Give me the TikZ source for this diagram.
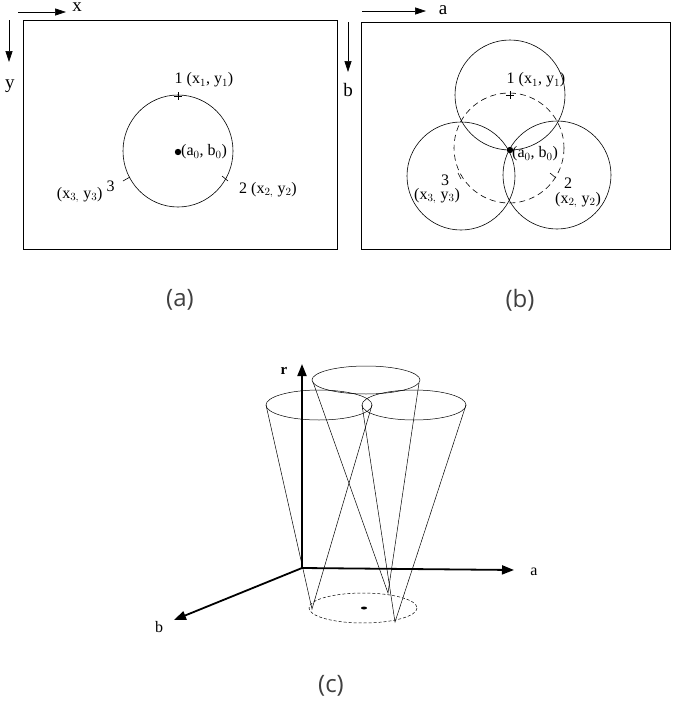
\documentclass[tikz,border=0pt]{standalone}
\usepackage{fontspec}
\setmainfont{Liberation Serif}
\setsansfont{Open Sans}
\usetikzlibrary{arrows.meta}
\begin{document}
\begin{tikzpicture}[x=1pt,y=-1pt,
  lab/.style={inner sep=1pt,font=\fontsize{16}{18}\selectfont},
  big/.style={inner sep=1pt,font=\fontsize{19}{22}\selectfont},
  captn/.style={font=\sffamily\fontsize{24}{28}\selectfont\color{black!75}},
  ax/.style={-{Triangle[length=11pt,width=7pt]},line width=0.6pt},
  bax/.style={-{Triangle[length=12pt,width=9pt]},line width=1.8pt},
  thin/.style={line width=0.6pt},
  cone/.style={line width=0.5pt}]
\useasboundingbox (0,0) rectangle (673,707);
% panel a
\draw[thin] (23,20) rectangle (337,249);
\coordinate (xa0) at (18,12); \coordinate (xa1) at (66,12);
\draw[ax] (xa0) -- (xa1);
\node[big] (lx) at (77,7) {x};
\coordinate (ya0) at (9,20); \coordinate (ya1) at (9,62);
\draw[ax] (ya0) -- (ya1);
\node[big] (ly) at (10,86) {y};
\draw[thin] (178,151) ellipse (55 and 56);
\fill (178,152) circle (3.2);
\node[lab,anchor=west] (a0) at (180,152) {(a$_0$, b$_0$)};
\draw[thin] (174,96)--(182,96) (178,92)--(178,100);
\draw[thin] (123,181)--(130,177);
\draw[thin] (222,176)--(228,181);
\node[lab] (p1) at (204,80) {1 (x$_1$, y$_1$)};
\node[lab] (p3) at (86,192) {(x$_{3,}$ y$_3$) $^{\textrm{3}}$};
\node[lab] (p2) at (268,190) {2 (x$_{2,}$ y$_2$)};
% panel b
\draw[thin] (361,22) rectangle (670,249);
\coordinate (xb0) at (362,11); \coordinate (xb1) at (426,11);
\draw[ax] (xb0) -- (xb1);
\node[big] (la) at (443,10) {a};
\coordinate (yb0) at (348,22); \coordinate (yb1) at (348,72);
\draw[ax] (yb0) -- (yb1);
\node[big] (lb) at (348,90) {b};
\draw[thin,dash pattern=on 6pt off 4pt] (509,148) ellipse (55 and 55);
\draw[thin] (510,95) circle (55);
\draw[thin] (461,176) circle (54);
\draw[thin] (557,175) circle (54);
\fill (510,150) circle (3.2);
\node[lab,anchor=west] (b0) at (511,154) {(a$_0$, b$_0$)};
\draw[thin] (506,95)--(514,95) (510,91)--(510,99);
\draw[thin] (458,173)--(461,179);
\draw[thin] (550,173)--(556,178);
\node[lab] (q1) at (536,80) {1 (x$_1$, y$_1$)};
\node[lab] (q3n) at (445,180) {3};
\node[lab] (q3) at (437,196) {(x$_{3,}$ y$_3$)};
\node[lab] (q2n) at (568,183) {2};
\node[lab] (q2) at (578,200) {(x$_{2,}$ y$_2$)};
% captions
\node[captn] (ca) at (180,300) {(a)};
\node[captn] (cb) at (520,300) {(b)};
\node[captn] (cc) at (331,686) {(c)};
% panel c
\coordinate (O) at (302,568);
\coordinate (R) at (302,364);
\coordinate (A) at (514,570);
\coordinate (B) at (174,620);
\draw[bax] (O) -- (R);
\draw[bax] (O) -- (A);
\draw[bax] (O) -- (B);
\node[lab,font=\bfseries\fontsize{15}{17}\selectfont] (lr) at (284,371) {r};
\node[lab] (la2) at (534,572) {a};
\node[lab] (lb2) at (159,627) {b};
\draw[cone,dash pattern=on 3pt off 2pt] (363,608) ellipse (54 and 15);
\fill (364,608) ellipse (3 and 1.5);
\coordinate (P1) at (312,609);
\coordinate (P2) at (388,593);
\coordinate (P3) at (395,622);
\draw[cone] (319,405) ellipse (53 and 15);
\draw[cone] (366,380) ellipse (54 and 14);
\draw[cone] (414,405) ellipse (52 and 15);
\draw[cone] (266,405) -- (P1) -- (372,405);
\draw[cone] (313,382) -- (P2) -- (419,383);
\draw[cone] (362,405) -- (P3) -- (466,405);
\end{tikzpicture}
\end{document}
